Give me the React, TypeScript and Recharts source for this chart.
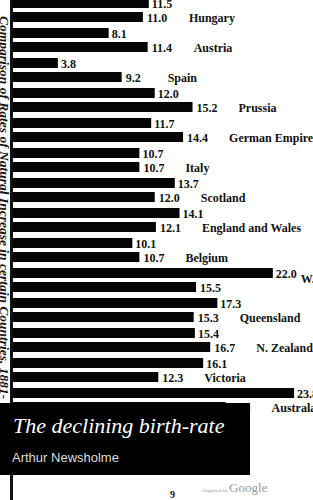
import { Bar, BarChart, LabelList, XAxis, YAxis } from "recharts";

const countries = [
  "Hungary",
  "Austria",
  "Spain",
  "Prussia",
  "German Empire",
  "Italy",
  "Scotland",
  "England and Wales",
  "Belgium",
  "W. Australia",
  "Queensland",
  "N. Zealand",
  "Victoria",
  "Australasia",
];
const firstPeriod = [11.5, 8.1, 3.8, 12.0, 11.7, 10.7, 13.7, 14.1, 10.1, 22.0, 17.3, 15.4, 16.1, 23.8];
const secondPeriod = [11.0, 11.4, 9.2, 15.2, 14.4, 10.7, 12.0, 12.1, 10.7, 15.5, 15.3, 16.7, 12.3, 18.0];

const rows = countries.map((country, i) => ({
  country,
  first: firstPeriod[i],
  second: secondPeriod[i],
}));

const serif = '"Liberation Serif", "DejaVu Serif", serif';
const textStyle = {
  fontFamily: serif,
  fontWeight: 700,
  fontSize: 12,
  fill: "#111",
};

function FirstLabel(props: any) {
  const { x, y, width, height, value } = props;
  return (
    <text x={x + width + 3} y={y + height / 2 + 1} dominantBaseline="central" {...textStyle}>
      {Number(value).toFixed(1)}
    </text>
  );
}

function SecondLabel(props: any) {
  const { x, y, width, height, value, index } = props;
  const first = firstPeriod[index];
  const perUnit = width / value;
  const firstEnd = x + first * perUnit;
  // when the upper bar runs far past the lower one the name is pushed out past its label
  const pushed = first - value > 6;
  const nameX = pushed ? firstEnd + 28 : x + width + 46;
  const nameY = pushed ? y + height / 2 - 8 : y + height / 2 + 1;
  return (
    <g>
      <text x={x + width + 4} y={y + height / 2 + 1} dominantBaseline="central" {...textStyle}>
        {Number(value).toFixed(1)}
      </text>
      <text x={nameX} y={nameY} dominantBaseline="central" {...textStyle}>
        {countries[index]}
      </text>
    </g>
  );
}

export default function App() {
  return (
    <div
      style={{
        position: "fixed",
        left: 0,
        top: 0,
        width: 313,
        height: 500,
        overflow: "hidden",
        background: "#fff",
      }}
    >
      <div style={{ position: "absolute", left: 0, top: -5 }}>
        <BarChart
          width={313}
          height={420}
          data={rows}
          layout="vertical"
          margin={{ top: 0, right: 0, bottom: 0, left: 13 }}
          barCategoryGap={3}
          barGap={4}
        >
          <XAxis type="number" domain={[0, 25.4]} hide />
          <YAxis type="category" dataKey="country" hide />
          <Bar dataKey="first" fill="#050505" isAnimationActive={false}>
            <LabelList dataKey="first" content={<FirstLabel />} />
          </Bar>
          <Bar dataKey="second" fill="#050505" isAnimationActive={false}>
            <LabelList dataKey="second" content={<SecondLabel />} />
          </Bar>
        </BarChart>
      </div>

      <div
        style={{
          position: "absolute",
          left: 10,
          top: 0,
          width: 3,
          height: 500,
          background: "#111",
        }}
      />

      <div
        style={{
          position: "absolute",
          left: -1,
          top: 16,
          width: 11,
          writingMode: "vertical-rl",
          fontFamily: serif,
          fontStyle: "italic",
          fontWeight: 700,
          fontSize: 13.5,
          lineHeight: "11px",
          color: "#111",
          whiteSpace: "nowrap",
        }}
      >
        Comparison of Rates of Natural Increase in certain Countries, 1881-
      </div>

      <div
        style={{
          position: "absolute",
          left: 0,
          top: 403,
          width: 250,
          height: 72,
          background: "#000",
        }}
      >
        <div
          style={{
            position: "absolute",
            left: 13,
            top: 10,
            fontFamily: serif,
            fontStyle: "italic",
            fontSize: 22,
            color: "#fff",
            whiteSpace: "nowrap",
          }}
        >
          The declining birth-rate
        </div>
        <div
          style={{
            position: "absolute",
            left: 12,
            top: 47,
            fontFamily: '"Liberation Sans", Arial, sans-serif',
            fontSize: 13,
            color: "#ddd",
            whiteSpace: "nowrap",
          }}
        >
          Arthur Newsholme
        </div>
      </div>

      <div
        style={{
          position: "absolute",
          left: 203,
          top: 478,
          fontFamily: serif,
          color: "#9a9a9a",
          whiteSpace: "nowrap",
        }}
      >
        <span style={{ fontSize: 5 }}>Digitized by </span>
        <span style={{ fontSize: 13 }}>Google</span>
      </div>
      <div
        style={{
          position: "absolute",
          left: 170,
          top: 489,
          fontFamily: serif,
          fontWeight: 700,
          fontSize: 10,
          color: "#111",
        }}
      >
        9
      </div>
    </div>
  );
}
